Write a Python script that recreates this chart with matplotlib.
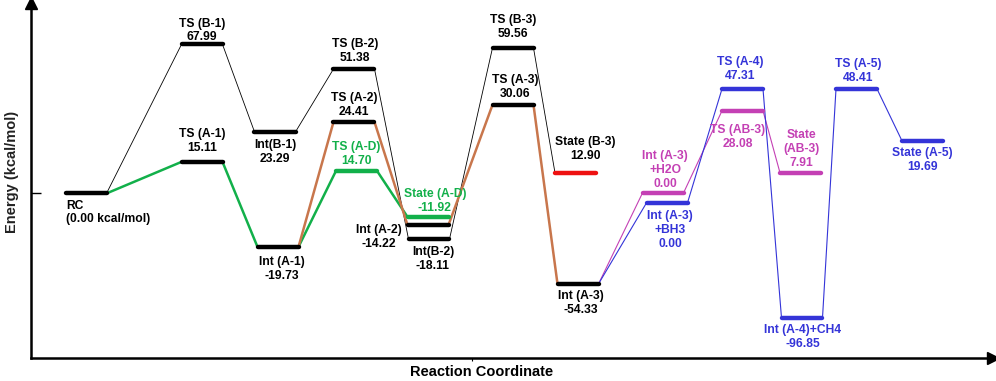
import numpy as np
import matplotlib.pyplot as plt

plt.rcParams['font.family'] = ['Liberation Sans', 'DejaVu Sans']

# states along the reaction coordinate (drawn levels are schematic)
keys = ['RC', 'TSB1', 'TSA1', 'IntB1', 'IntA1', 'TSB2', 'TSA2', 'TSAD', 'StAD', 'IntA2', 'IntB2',
        'TSB3', 'TSA3', 'StB3', 'IntA3', 'IntA3H2O', 'IntA3BH3', 'TSA4', 'TSAB3', 'StAB3',
        'IntA4', 'TSA5', 'StA5']
names = ['RC', 'TS (B-1)', 'TS (A-1)', 'Int(B-1)', 'Int (A-1)', 'TS (B-2)', 'TS (A-2)', 'TS (A-D)',
         'State (A-D)', 'Int (A-2)', 'Int(B-2)', 'TS (B-3)', 'TS (A-3)', 'State (B-3)', 'Int (A-3)',
         'Int (A-3)\n+H2O', 'Int (A-3)\n+BH3', 'TS (A-4)', 'TS (AB-3)', 'State\n(AB-3)',
         'Int (A-4)+CH4', 'TS (A-5)', 'State (A-5)']
energies = ['(0.00 kcal/mol)', '67.99', '15.11', '23.29', '-19.73', '51.38', '24.41', '14.70',
            '-11.92', '-14.22', '-18.11', '59.56', '30.06', '12.90', '-54.33',
            '0.00', '0.00', '47.31', '28.08', '7.91', '-96.85', '48.41', '19.69']
coord = [5.5, 17.1, 17.1, 24.4, 24.7, 32.3, 32.3, 32.55, 39.7, 39.7, 39.8,
         48.2, 48.2, 54.45, 54.7, 63.2, 63.6, 71.15, 71.15, 76.95, 77.1, 82.55, 89.15]
level = [0.0, 68.0, 14.4, 28.1, -24.4, 56.8, 32.6, 10.3, -10.7, -14.4, -20.8,
         66.4, 40.4, 9.4, -41.3, 0.2, -4.3, 47.7, 37.7, 9.4, -56.8, 47.7, 24.0]

# pathways
path_B = ['RC', 'TSB1', 'IntB1', 'TSB2', 'IntB2', 'TSB3', 'StB3']
path_AD = ['RC', 'TSA1', 'IntA1', 'TSAD', 'StAD']
path_A = ['IntA1', 'TSA2', 'IntA2', 'TSA3', 'IntA3']
path_AB = ['IntA3', 'IntA3H2O', 'TSAB3', 'StAB3']
path_A4 = ['IntA3', 'IntA3BH3', 'TSA4', 'IntA4', 'TSA5', 'StA5']

BLACK = '#000000'
GREEN = '#12b04a'
BROWN = '#c8764c'
MAGENTA = '#c440b4'
BLUE = '#3434d8'
RED = '#ee1111'

bar_color = {k: BLACK for k in keys}
for k in ['TSAD', 'StAD']:
    bar_color[k] = GREEN
for k in ['IntA3H2O', 'TSAB3', 'StAB3']:
    bar_color[k] = MAGENTA
for k in ['IntA3BH3', 'TSA4', 'IntA4', 'TSA5', 'StA5']:
    bar_color[k] = BLUE
bar_color['StB3'] = RED
text_color = dict(bar_color)
text_color['StB3'] = BLACK

# label placement: offset of text block centre from bar centre (pixels), alignment
label_pos = {
    'RC': (-20, -19, 'left'), 'TSB1': (0, 14, 'center'), 'TSA1': (0, 21, 'center'),
    'IntB1': (0, -20, 'center'), 'IntA1': (4, -22, 'center'), 'TSB2': (1, 18, 'center'),
    'TSA2': (0, 17, 'center'), 'TSAD': (0, 17, 'center'), 'StAD': (7, 16, 'center'),
    'IntA2': (-49, -12, 'center'), 'IntB2': (4, -20, 'center'), 'TSB3': (0, 21, 'center'),
    'TSA3': (2, 18, 'center'), 'StB3': (10, 24, 'center'), 'IntA3': (3, -19, 'center'),
    'IntA3H2O': (2, 23, 'center'), 'IntA3BH3': (3, -27, 'center'), 'TSA4': (-2, 20, 'center'),
    'TSAB3': (-5, -26, 'center'), 'StAB3': (1, 24, 'center'), 'IntA4': (1, -19, 'center'),
    'TSA5': (2, 18, 'center'), 'StA5': (0, -19, 'center'),
}

half = 2.05
idx = {k: i for i, k in enumerate(keys)}

fig = plt.figure(figsize=(9.96, 3.81), dpi=100)
ax = fig.add_axes([31 / 996, 23 / 381, 962 / 996, 355 / 381])
ax.set_xlim(0, 96.2)
ax.set_ylim(-75.1, 86.9)


def draw_path(path, color, lw):
    for a, b in zip(path[:-1], path[1:]):
        i, j = idx[a], idx[b]
        ax.plot([coord[i] + half, coord[j] - half], [level[i], level[j]],
                color=color, lw=lw, solid_capstyle='round', zorder=2)


draw_path(path_B, BLACK, 0.6)
draw_path(path_AD, GREEN, 1.8)
draw_path(path_A, BROWN, 1.8)
draw_path(path_AB, MAGENTA, 0.8)
draw_path(path_A4, BLUE, 0.8)

for i, k in enumerate(keys):
    ax.plot([coord[i] - half, coord[i] + half], [level[i], level[i]],
            color=bar_color[k], lw=3.2, solid_capstyle='round', zorder=3)
    dx, dy, ha = label_pos[k]
    ax.annotate(names[i] + '\n' + energies[i], xy=(coord[i], level[i]),
                xytext=(dx, dy), textcoords='offset pixels', ha=ha, va='center',
                multialignment=ha, fontsize=8.7, fontweight='bold',
                color=text_color[k], linespacing=1.2, zorder=4)

# axes with arrows
for s in ['top', 'right']:
    ax.spines[s].set_visible(False)
ax.spines['left'].set_linewidth(1.8)
ax.spines['bottom'].set_linewidth(1.8)
ax.plot([1], [0], marker='>', ms=8, color='black', transform=ax.transAxes, clip_on=False)
ax.plot([0], [1], marker='^', ms=8, color='black', transform=ax.transAxes, clip_on=False)

ax.set_yticks([0])
ax.tick_params(axis='y', direction='in', length=7, width=1, labelleft=False)
ax.set_xticks([44.1])
ax.tick_params(axis='x', direction='out', length=2, width=0.8, labelbottom=False)

fig.text(482 / 996, 1 - 372 / 381, 'Reaction Coordinate', ha='center', va='center',
         fontsize=10.5, fontweight='bold')
fig.text(12 / 996, 1 - 172 / 381, 'Energy (kcal/mol)', ha='center', va='center',
         rotation=90, fontsize=10.5, fontweight='bold', color='#222222')

fig.savefig('out.png', dpi=100)
